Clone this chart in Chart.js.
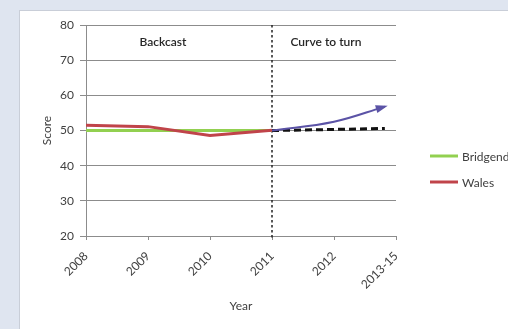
<!DOCTYPE html>
<html>
<head>
<meta charset="utf-8">
<script src="https://cdn.jsdelivr.net/npm/chart.js@4/dist/chart.umd.min.js"></script>
<style>
  html, body { margin: 0; padding: 0; width: 508px; height: 329px; overflow: hidden; background: #dfe5f0; }
  #panel { position: absolute; left: 19px; top: 10px; width: 540px; height: 340px; background: #fff; border: 1px solid #c9ced8; }
  #wrap { position: absolute; left: 0; top: 0; width: 540px; height: 329px; }
</style>
</head>
<body>
<div id="panel"></div>
<div id="wrap"><canvas id="c" width="540" height="329"></canvas></div>
<script>
// Year categories along the bottom axis
const yearLabels = ['2008', '2009', '2010', '2011', '2012', '2013-15'];

// Observed scores, 2008–2011
const bridgendScores = [50, 50, 50, 50];
const walesScores = [51.5, 51.1, 48.6, 50.1];

// Projection beyond 2011: the hoped-for upturn and the flat baseline
const turnX = [3, 4, 4.82];
const turnY = [50, 52.5, 56.8];
const flatX = [3, 4, 4.82];
const flatY = [50, 50.3, 50.6];

const yTicks = [20, 30, 40, 50, 60, 70, 80];

const FONT = 'Lato, "Open Sans", sans-serif';

const toPoints = (ys, xs) => ys.map((y, i) => ({ x: xs ? xs[i] : i, y }));

const legendItems = [
  { label: 'Bridgend', color: '#92d050' },
  { label: 'Wales', color: '#c0444a' }
];

const extras = {
  id: 'extras',
  beforeDatasetsDraw(chart) {
    const { ctx, chartArea, scales } = chart;
    const x = scales.x.getPixelForValue(3);
    ctx.save();
    ctx.strokeStyle = '#222';
    ctx.lineWidth = 1.5;
    ctx.setLineDash([2.5, 2.5]);
    ctx.beginPath();
    ctx.moveTo(x, chartArea.top);
    ctx.lineTo(x, chartArea.bottom + 4);
    ctx.stroke();
    ctx.restore();
  },
  afterDatasetsDraw(chart) {
    const { ctx, scales } = chart;
    // arrow head on the upturn curve
    const meta = chart.getDatasetMeta(2);
    const pts = meta.data;
    const p = pts[pts.length - 1];
    let dx = p.x - p.cp1x, dy = p.y - p.cp1y;
    if (!isFinite(dx) || (dx === 0 && dy === 0)) { dx = p.x - pts[pts.length - 2].x; dy = p.y - pts[pts.length - 2].y; }
    const len = Math.hypot(dx, dy);
    const ux = dx / len, uy = dy / len;
    const L = 9, W = 4;
    ctx.save();
    ctx.fillStyle = '#5b53a6';
    ctx.beginPath();
    ctx.moveTo(p.x + ux * 3, p.y + uy * 3);
    ctx.lineTo(p.x - ux * L - uy * W, p.y - uy * L + ux * W);
    ctx.lineTo(p.x - ux * L + uy * W, p.y - uy * L - ux * W);
    ctx.closePath();
    ctx.fill();

    // section captions
    ctx.fillStyle = '#262626';
    ctx.font = '600 12px ' + FONT;
    ctx.textAlign = 'center';
    ctx.textBaseline = 'middle';
    const yCap = scales.y.getPixelForValue(75.2);
    ctx.fillText('Backcast', scales.x.getPixelForValue(1.24), yCap);
    ctx.fillText('Curve to turn', scales.x.getPixelForValue(3.87), yCap);

    // legend
    ctx.font = '12px ' + FONT;
    ctx.textAlign = 'left';
    legendItems.forEach((it, i) => {
      const y = 156 + i * 26;
      ctx.strokeStyle = it.color;
      ctx.lineWidth = 3;
      ctx.beginPath();
      ctx.moveTo(430, y);
      ctx.lineTo(458, y);
      ctx.stroke();
      ctx.fillStyle = '#404040';
      ctx.fillText(it.label, 462, y + 1);
    });
    ctx.restore();
  }
};

new Chart(document.getElementById('c'), {
  type: 'line',
  data: {
    datasets: [
      { label: 'Wales', data: toPoints(walesScores), borderColor: '#c0444a', borderWidth: 3, pointRadius: 0, tension: 0, order: 1 },
      { label: 'Bridgend', data: toPoints(bridgendScores), borderColor: '#92d050', borderWidth: 3, pointRadius: 0, tension: 0, order: 2 },
      { label: 'Upturn', data: toPoints(turnY, turnX), borderColor: '#5b53a6', borderWidth: 2, pointRadius: 0, tension: 0.4, order: 0 },
      { label: 'Baseline', data: toPoints(flatY, flatX), borderColor: '#111', borderWidth: 3, borderDash: [7, 4], pointRadius: 0, tension: 0, order: 0.5 }
    ]
  },
  options: {
    responsive: false,
    animation: false,
    layout: { padding: { top: 25, right: 144, left: 0, bottom: 0 } },
    plugins: { legend: { display: false }, tooltip: { enabled: false } },
    scales: {
      x: {
        type: 'linear',
        min: 0,
        max: 5,
        afterFit(s) { s.height = 93; },
        grid: { drawOnChartArea: false, drawTicks: true, tickLength: 4, color: '#8c8c8c' },
        border: { color: '#8c8c8c' },
        ticks: {
          stepSize: 1,
          autoSkip: false,
          minRotation: 45,
          maxRotation: 45,
          padding: 9,
          color: '#404040',
          font: { family: FONT, size: 12 },
          callback: v => yearLabels[v]
        },
        afterBuildTicks(s) { s.ticks = yearLabels.map((_, i) => ({ value: i })); },
        title: { display: true, text: 'Year', color: '#404040', font: { family: FONT, size: 12 }, padding: { top: 0, bottom: 16 } }
      },
      y: {
        min: 20,
        max: 80,
        afterFit(s) { s.width = 86; },
        afterBuildTicks(s) { s.ticks = yTicks.map(v => ({ value: v })); },
        grid: { color: '#8c8c8c', tickLength: 6 },
        border: { color: '#8c8c8c' },
        ticks: { padding: 6, color: '#404040', font: { family: FONT, size: 12 } },
        title: { display: true, text: 'Score', color: '#404040', font: { family: FONT, size: 12 }, padding: { top: 40, bottom: 0 } }
      }
    }
  },
  plugins: [extras]
});
</script>
</body>
</html>
